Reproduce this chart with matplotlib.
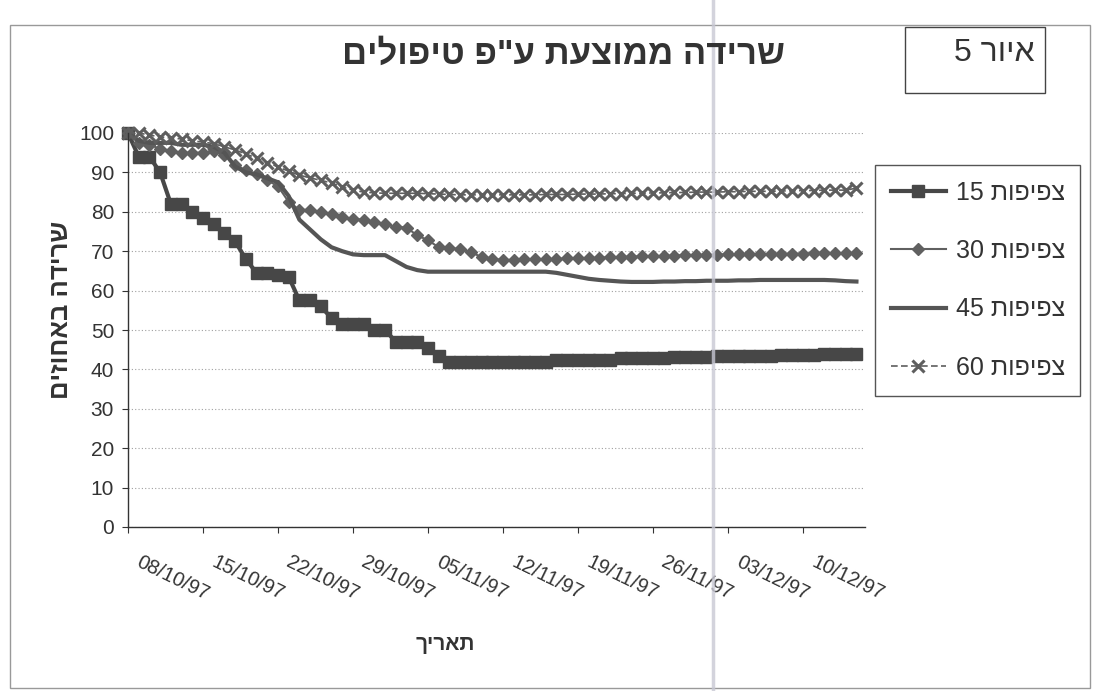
import pandas as pd
import matplotlib
matplotlib.use('Agg')
import matplotlib.pyplot as plt
import matplotlib.dates as mdates
from matplotlib.transforms import ScaledTranslation
from matplotlib.patches import Rectangle
from matplotlib.lines import Line2D

plt.rcParams['font.family'] = ['Liberation Sans', 'DejaVu Sans']


def heb(s):
    # matplotlib lays text out left to right, so Hebrew has to go in reversed
    return s[::-1]


# survival (%) per day, starting 08/10/97
s15 = [100, 94, 94, 90, 82, 82, 80, 78.5, 77, 74.5,
       72.5, 68, 64.5, 64.5, 64, 63.5, 57.5, 57.5, 56, 53,
       51.5, 51.5, 51.5, 50, 50, 47, 47, 47, 45.5, 43.5,
       42, 42, 42, 42, 42, 42, 42, 42, 42, 42,
       42.3, 42.3, 42.5, 42.5, 42.5, 42.5, 42.8, 42.8, 43, 43,
       43, 43.2, 43.2, 43.2, 43.2, 43.4, 43.4, 43.4, 43.5, 43.5,
       43.5, 43.6, 43.6, 43.7, 43.7, 43.8, 43.8, 43.9, 44]
s30 = [100, 97.5, 97, 96, 95.5, 95, 95, 95, 95.5, 94.5,
       92, 90.5, 89.5, 88, 86.5, 82.5, 80.5, 80.5, 80, 79.5,
       78.7, 78.2, 78, 77.3, 76.8, 76.2, 76, 74, 72.8, 71,
       70.8, 70.5, 69.8, 68.5, 68, 67.8, 67.8, 68, 68, 68,
       68, 68.2, 68.2, 68.3, 68.3, 68.5, 68.5, 68.6, 68.7, 68.8,
       68.8, 68.9, 69, 69, 69, 69.1, 69.2, 69.2, 69.3, 69.3,
       69.3, 69.4, 69.4, 69.4, 69.5, 69.5, 69.5, 69.5, 69.6]
s45 = [100, 98, 97.5, 97.5, 97.5, 97, 97, 97, 96.5, 95,
       91.5, 90, 89.5, 88.5, 87.5, 84, 78, 75.5, 73, 71,
       70, 69.2, 69, 69, 69, 67.5, 66, 65.2, 64.8, 64.8,
       64.8, 64.8, 64.8, 64.8, 64.8, 64.8, 64.8, 64.8, 64.8, 64.8,
       64.5, 64, 63.5, 63, 62.7, 62.5, 62.3, 62.2, 62.2, 62.2,
       62.3, 62.3, 62.4, 62.4, 62.5, 62.5, 62.5, 62.6, 62.6, 62.7,
       62.7, 62.7, 62.7, 62.7, 62.7, 62.7, 62.6, 62.4, 62.3]
s60 = [100, 100, 99.5, 99, 98.7, 98.5, 98, 97.7, 97.3, 96.5,
       95.7, 94.7, 93.6, 92.5, 91.4, 90.3, 89.3, 88.6, 88, 87.3,
       86.3, 85.5, 85, 84.8, 84.7, 84.7, 84.7, 84.7, 84.6, 84.5,
       84.4, 84.3, 84.3, 84.3, 84.3, 84.3, 84.3, 84.3, 84.3, 84.4,
       84.4, 84.4, 84.5, 84.5, 84.5, 84.6, 84.6, 84.7, 84.7, 84.8,
       84.8, 84.9, 84.9, 85, 85, 85, 85.1, 85.1, 85.2, 85.2,
       85.2, 85.3, 85.3, 85.4, 85.4, 85.5, 85.5, 85.5, 86]

dates = pd.date_range('1997-10-08', periods=len(s15), freq='D')
week_ticks = pd.date_range('1997-10-08', '1997-12-10', freq='7D')

title = heb('שרידה ממוצעת ע"פ טיפולים')
ylabel = heb('שרידה באחוזים')
xlabel = heb('תאריך')
word = heb('צפיפות')
labels = ['15 ' + word, '30 ' + word, '45 ' + word, '60 ' + word]
fig_tag = '5 ' + heb('איור')

W, H = 1095, 691
fig = plt.figure(figsize=(W / 100, H / 100), dpi=100)
fig.patch.set_facecolor('white')

ax = fig.add_axes([128 / W, 1 - 527 / H, (865 - 128) / W, (527 - 133) / H])

ax.plot(dates, s15, color='#474747', lw=3, marker='s', ms=9, clip_on=False,
        label=labels[0])
ax.plot(dates, s30, color='#606060', lw=1.5, marker='D', ms=6, clip_on=False,
        label=labels[1])
ax.plot(dates, s45, color='#555555', lw=3, clip_on=False, label=labels[2])
ax.plot(dates, s60, color='#5e5e5e', lw=1.2, ls=(0, (4, 2)), marker='x',
        ms=8.5, mew=2.2, clip_on=False, label=labels[3])

ax.set_ylim(0, 100)
ax.set_yticks(range(0, 101, 10))
ax.set_xlim(pd.Timestamp('1997-10-08'), pd.Timestamp('1997-10-08') + pd.Timedelta(days=68.8))
ax.set_xticks(week_ticks)
ax.xaxis.set_major_formatter(mdates.DateFormatter('%d/%m/%y'))

ax.grid(axis='y', color='#a0a0a0', lw=0.8, ls=(0, (1, 2)))
ax.set_axisbelow(True)
for side in ['top', 'right']:
    ax.spines[side].set_visible(False)
for side in ['left', 'bottom']:
    ax.spines[side].set_color('#333333')
    ax.spines[side].set_linewidth(1.0)

ax.tick_params(axis='y', length=4, pad=6, labelsize=15, colors='#333333')
ax.tick_params(axis='x', length=4, pad=14.5, labelsize=14.5, colors='#333333')
shift = ScaledTranslation(14 / 100, 0, fig.dpi_scale_trans)
for lab in ax.get_xticklabels():
    lab.set_rotation(-26)
    lab.set_rotation_mode('anchor')
    lab.set_ha('left')
    lab.set_va('top')
    lab.set_transform(lab.get_transform() + shift)

fig.text(563 / W, 1 - 54 / H, title, ha='center', va='center', fontsize=25,
         fontweight='bold', color='#333333')
fig.text(61 / W, 1 - 310 / H, ylabel, ha='center', va='center', rotation=90,
         fontsize=18.5, fontweight='bold', color='#333333')
fig.text(445 / W, 1 - 645 / H, xlabel, ha='center', va='center', fontsize=15,
         fontweight='bold', color='#333333')

# figure number box
fig.patches.append(Rectangle((905 / W, 1 - 93 / H), 140 / W, 66 / H,
                             transform=fig.transFigure, fill=False,
                             edgecolor='#444444', lw=1))
fig.text(994 / W, 1 - 53 / H, fig_tag, ha='center', va='center', fontsize=23,
         color='#333333')

leg = ax.legend(loc='upper left', bbox_to_anchor=(875 / W, 1 - 165 / H),
                bbox_transform=fig.transFigure, borderaxespad=0, fontsize=18,
                labelspacing=1.38, handlelength=2.2, handletextpad=0.4,
                borderpad=0.62, fancybox=False, framealpha=1)
leg.get_frame().set_edgecolor('#555555')
leg.get_frame().set_linewidth(1)
for t in leg.get_texts():
    t.set_color('#333333')

# outer chart border
fig.patches.append(Rectangle((10 / W, 1 - 688 / H), 1080 / W, 663 / H,
                             transform=fig.transFigure, fill=False,
                             edgecolor='#999999', lw=1))
# crease in the paper
fig.lines.append(Line2D([713 / W, 713 / W], [0, 1], transform=fig.transFigure,
                        color='#c8c8d4', lw=2.5, alpha=0.8))

fig.savefig('out.png', dpi=100, facecolor='white')
